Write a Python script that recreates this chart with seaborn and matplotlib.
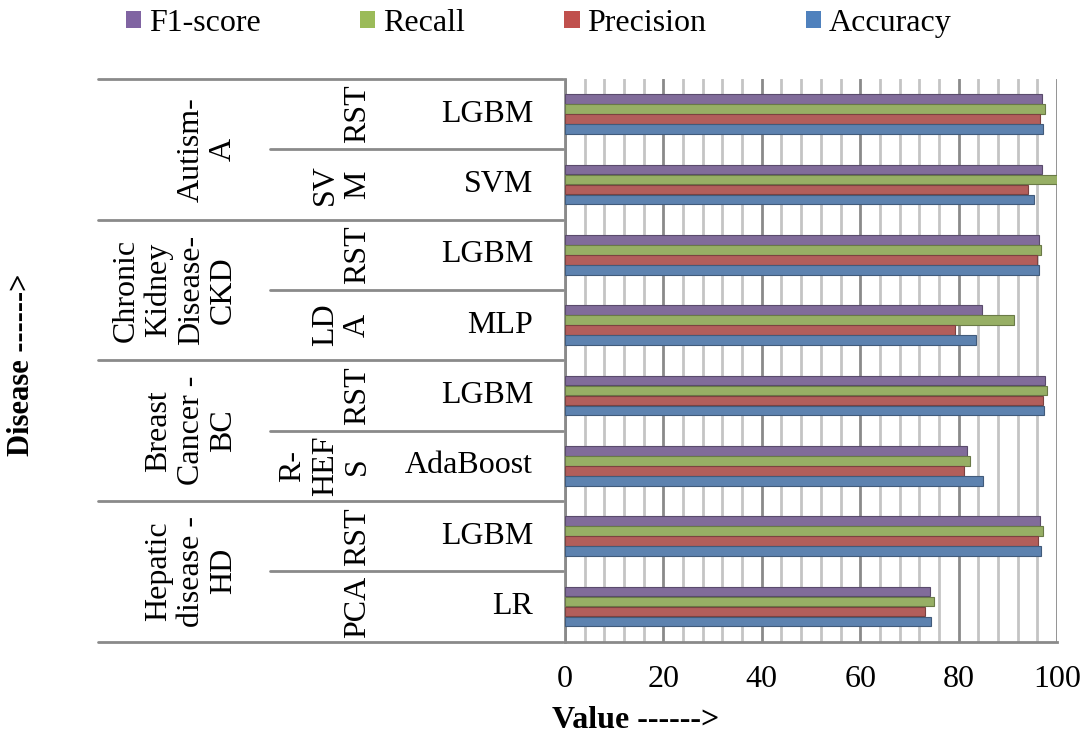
import matplotlib
matplotlib.use("Agg")
import matplotlib.pyplot as plt
import matplotlib.transforms as mtransforms
from matplotlib.patches import Patch
from matplotlib.lines import Line2D
from matplotlib.ticker import MultipleLocator
import seaborn as sns
import pandas as pd

# ---- data (top to bottom) ----
classifiers = ['LGBM', 'SVM', 'LGBM', 'MLP', 'LGBM', 'AdaBoost', 'LGBM', 'LR']
methods = ['RST', 'SV\nM', 'RST', 'LD\nA', 'RST', 'R-\nHEF\nS', 'RST', 'PCA']
diseases = ['Autism-\nA', 'Chronic\nKidney\nDisease-\nCKD', 'Breast\nCancer -\nBC', 'Hepatic\ndisease -\nHD']
metrics = ['F1-score', 'Recall', 'Precision', 'Accuracy']
f1_score = [97.0, 97.0, 96.4, 84.8, 97.5, 81.8, 96.6, 74.1]
recall = [97.5, 100.0, 96.8, 91.3, 97.9, 82.4, 97.1, 75.1]
precision = [96.6, 94.1, 96.0, 79.2, 97.1, 81.1, 96.2, 73.2]
accuracy = [97.1, 95.3, 96.4, 83.5, 97.3, 84.9, 96.8, 74.3]

colors = {'F1-score': '#8064A2', 'Recall': '#9BBB59', 'Precision': '#C0504D', 'Accuracy': '#4F81BD'}

rows = [f"r{i}" for i in range(len(classifiers))]
series = {'F1-score': f1_score, 'Recall': recall, 'Precision': precision, 'Accuracy': accuracy}
records = []
for m in metrics:
    for r, v in zip(rows, series[m]):
        records.append({'row': r, 'Metric': m, 'Value': v})
df = pd.DataFrame(records)

sns.set_style('white')
plt.rcParams['font.family'] = ['Liberation Serif', 'DejaVu Serif']
plt.rcParams['text.color'] = 'black'
plt.rcParams['xtick.color'] = 'black'

W, H = 1084, 737
fig = plt.figure(figsize=(W / 100, H / 100), dpi=100)
ax_left, ax_right, ax_top, ax_bot = 565, 1057, 79, 641.7
ax = fig.add_axes([ax_left / W, 1 - ax_bot / H, (ax_right - ax_left) / W, (ax_bot - ax_top) / H])

sns.barplot(data=df, y='row', x='Value', hue='Metric', order=rows, hue_order=metrics,
            palette=colors, orient='h', width=0.57, gap=0.03, legend=False,
            edgecolor='none', ax=ax, zorder=3)
for p in ax.patches:
    fc = p.get_facecolor()
    p.set_edgecolor(tuple(c * 0.7 for c in fc[:3]))
    p.set_linewidth(0.8)

ax.set_xlim(0, 100)
ax.set_ylim(len(rows) - 0.5, -0.5)
ax.xaxis.set_major_locator(MultipleLocator(20))
ax.xaxis.set_minor_locator(MultipleLocator(4))
ax.set_axisbelow(True)
ax.grid(which='minor', axis='x', color='#c4c4c4', lw=2)
ax.grid(which='major', axis='x', color='#8a8a8a', lw=2)
ax.set_yticks([])
ax.set_ylabel('')
ax.set_xlabel('')
for s in ['top', 'right']:
    ax.spines[s].set_visible(False)
for s in ['left', 'bottom']:
    ax.spines[s].set_color('#8a8a8a')
    ax.spines[s].set_linewidth(2)
ax.tick_params(axis='x', which='major', length=7, width=2, color='#8a8a8a',
               labelcolor='black', labelsize=23, pad=10)
ax.tick_params(axis='x', which='minor', length=0)

# ---- hierarchical labels ----
tr = mtransforms.blended_transform_factory(fig.transFigure, ax.transData)
lc = '#8a8a8a'
for i, c in enumerate(classifiers):
    ax.text(533 / W, i, c, transform=tr, ha='right', va='center', fontsize=23)
    ax.text(372 / W, i, methods[i], transform=tr, ha='right', va='center', fontsize=23,
            rotation=90, multialignment='center', linespacing=1.15)
for d, name in enumerate(diseases):
    ax.text(238 / W, 2 * d + 0.5, name, transform=tr, ha='right', va='center', fontsize=23,
            rotation=90, multialignment='center', linespacing=1.15)
for k in range(len(rows) + 1):
    yb = k - 0.5
    x0 = 98 / W if k % 2 == 0 else 270 / W
    fig.add_artist(Line2D([x0, 563 / W], [yb, yb], transform=tr, color=lc, lw=2))

# ---- legend ----
handles = [Patch(facecolor=colors[m], edgecolor='none') for m in metrics]
fig.legend(handles, metrics, loc='upper center', bbox_to_anchor=(0.497, 1.027), ncol=4,
           frameon=False, fontsize=23, handlelength=0.48, handleheight=0.48,
           handletextpad=0.25, columnspacing=3.1)

# ---- axis titles ----
fig.text(22 / W, 1 - 365 / H, 'Disease ------>', rotation=90, fontweight='bold', fontsize=22,
         ha='center', va='center')
fig.text(552 / W, 1 - 721 / H, 'Value ------>', fontweight='bold', fontsize=23,
         ha='left', va='center')

fig.savefig('out.png', dpi=100)
